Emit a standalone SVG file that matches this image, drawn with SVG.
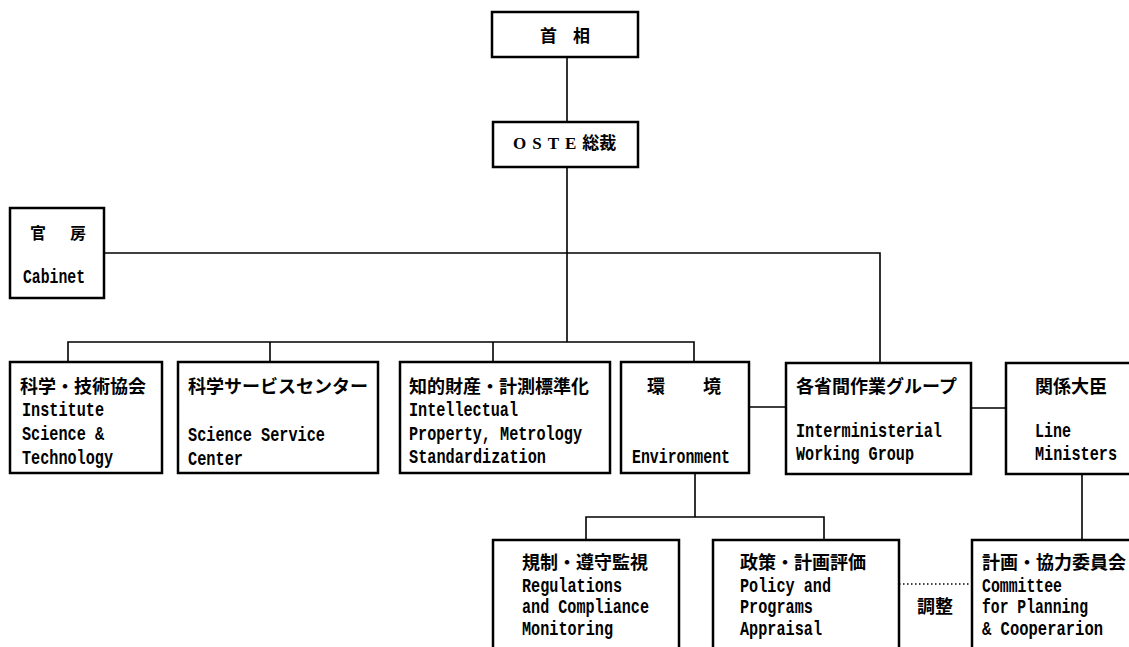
<svg xmlns="http://www.w3.org/2000/svg" width="1129" height="647" viewBox="0 0 1129 647">
<style>
.box{fill:#fff;stroke:#000;stroke-width:2.5}
.ln{fill:none;stroke:#000;stroke-width:1.6}
.dot{fill:none;stroke:#000;stroke-width:1.6;stroke-dasharray:1.5 2.5}
.jp{font-family:"Noto Sans CJK JP","Noto Sans CJK SC",sans-serif;font-size:18px;font-weight:bold;fill:#000}
.en{font-family:"Liberation Mono",monospace;font-size:21px;font-weight:bold;fill:#000}
.se{font-family:"Liberation Serif",serif;font-size:17px;font-weight:bold}
</style>
<rect width="1129" height="647" fill="#fff"/>
<g id="connectors">
<path class="ln" d="M567 57V122M567 167V342"/>
<path class="ln" d="M104 253H880V363"/>
<path class="ln" d="M68 362V342H694V362M270 342V362M493 342V362"/>
<path class="ln" d="M749 407H786M971 408H1006"/>
<path class="ln" d="M695 473V517M586 540V517H824V540"/>
<path class="ln" d="M1082 474V540"/>
<path class="dot" d="M899 584H972"/>
</g>
<g id="shusho">
<rect class="box" x="492" y="12" width="146" height="45"/>
<text class="jp" x="540" y="42" style="font-size:17px" letter-spacing="16">首相</text>
</g>
<g id="oste">
<rect class="box" x="493" y="122" width="145" height="45"/>
<text class="jp" x="513" y="149" style="font-size:17px"><tspan class="se" letter-spacing="6">OSTE</tspan>総裁</text>
</g>
<g id="kanbo">
<rect class="box" x="10" y="208" width="94" height="90"/>
<text class="jp" x="30" y="239" style="font-size:16px" letter-spacing="24">官房</text>
<text class="en" x="23" y="283" textLength="62" lengthAdjust="spacingAndGlyphs">Cabinet</text>
</g>
<g id="institute">
<rect class="box" x="10" y="362" width="152" height="111"/>
<text class="jp" x="20" y="393">科学・技術協会</text>
<text class="en" x="22" y="416" textLength="82" lengthAdjust="spacingAndGlyphs">Institute</text>
<text class="en" x="22" y="440" textLength="82" lengthAdjust="spacingAndGlyphs">Science &amp;</text>
<text class="en" x="22" y="464" textLength="91" lengthAdjust="spacingAndGlyphs">Technology</text>
</g>
<g id="service">
<rect class="box" x="178" y="362" width="200" height="111"/>
<text class="jp" x="188" y="393">科学サービスセンター</text>
<text class="en" x="188" y="441" textLength="137" lengthAdjust="spacingAndGlyphs">Science Service</text>
<text class="en" x="188" y="465" textLength="55" lengthAdjust="spacingAndGlyphs">Center</text>
</g>
<g id="ip">
<rect class="box" x="400" y="362" width="210" height="111"/>
<text class="jp" x="409" y="393">知的財産・計測標準化</text>
<text class="en" x="409" y="416" textLength="109" lengthAdjust="spacingAndGlyphs">Intellectual</text>
<text class="en" x="409" y="440" textLength="173" lengthAdjust="spacingAndGlyphs">Property, Metrology</text>
<text class="en" x="409" y="463" textLength="137" lengthAdjust="spacingAndGlyphs">Standardization</text>
</g>
<g id="environment">
<rect class="box" x="621" y="362" width="128" height="111"/>
<text class="jp" x="647" y="393" letter-spacing="38">環境</text>
<text class="en" x="632" y="463" textLength="98" lengthAdjust="spacingAndGlyphs">Environment</text>
</g>
<g id="interministerial">
<rect class="box" x="786" y="363" width="185" height="111"/>
<text class="jp" x="796" y="393">各省間作業グループ</text>
<text class="en" x="796" y="437" textLength="146" lengthAdjust="spacingAndGlyphs">Interministerial</text>
<text class="en" x="796" y="460" textLength="118" lengthAdjust="spacingAndGlyphs">Working Group</text>
</g>
<g id="ministers">
<rect class="box" x="1006" y="363" width="130" height="111"/>
<text class="jp" x="1035" y="393">関係大臣</text>
<text class="en" x="1035" y="437" textLength="36" lengthAdjust="spacingAndGlyphs">Line</text>
<text class="en" x="1035" y="460" textLength="82" lengthAdjust="spacingAndGlyphs">Ministers</text>
</g>
<g id="regulations">
<rect class="box" x="493" y="540" width="186" height="120"/>
<text class="jp" x="522" y="569">規制・遵守監視</text>
<text class="en" x="522" y="592" textLength="100" lengthAdjust="spacingAndGlyphs">Regulations</text>
<text class="en" x="522" y="613" textLength="127" lengthAdjust="spacingAndGlyphs">and Compliance</text>
<text class="en" x="522" y="635" textLength="91" lengthAdjust="spacingAndGlyphs">Monitoring</text>
</g>
<g id="policy">
<rect class="box" x="713" y="540" width="186" height="120"/>
<text class="jp" x="740" y="569">政策・計画評価</text>
<text class="en" x="740" y="592" textLength="91" lengthAdjust="spacingAndGlyphs">Policy and</text>
<text class="en" x="740" y="613" textLength="73" lengthAdjust="spacingAndGlyphs">Programs</text>
<text class="en" x="740" y="635" textLength="82" lengthAdjust="spacingAndGlyphs">Appraisal</text>
</g>
<g id="committee">
<rect class="box" x="972" y="540" width="170" height="120"/>
<text class="jp" x="982" y="569">計画・協力委員会</text>
<text class="en" x="982" y="592" textLength="80" lengthAdjust="spacingAndGlyphs">Committee</text>
<text class="en" x="982" y="613" textLength="106" lengthAdjust="spacingAndGlyphs">for Planning</text>
<text class="en" x="982" y="635" textLength="121" lengthAdjust="spacingAndGlyphs">&amp; Cooperarion</text>
</g>
<g id="chosei">
<text class="jp" x="917" y="613">調整</text>
</g>
</svg>
